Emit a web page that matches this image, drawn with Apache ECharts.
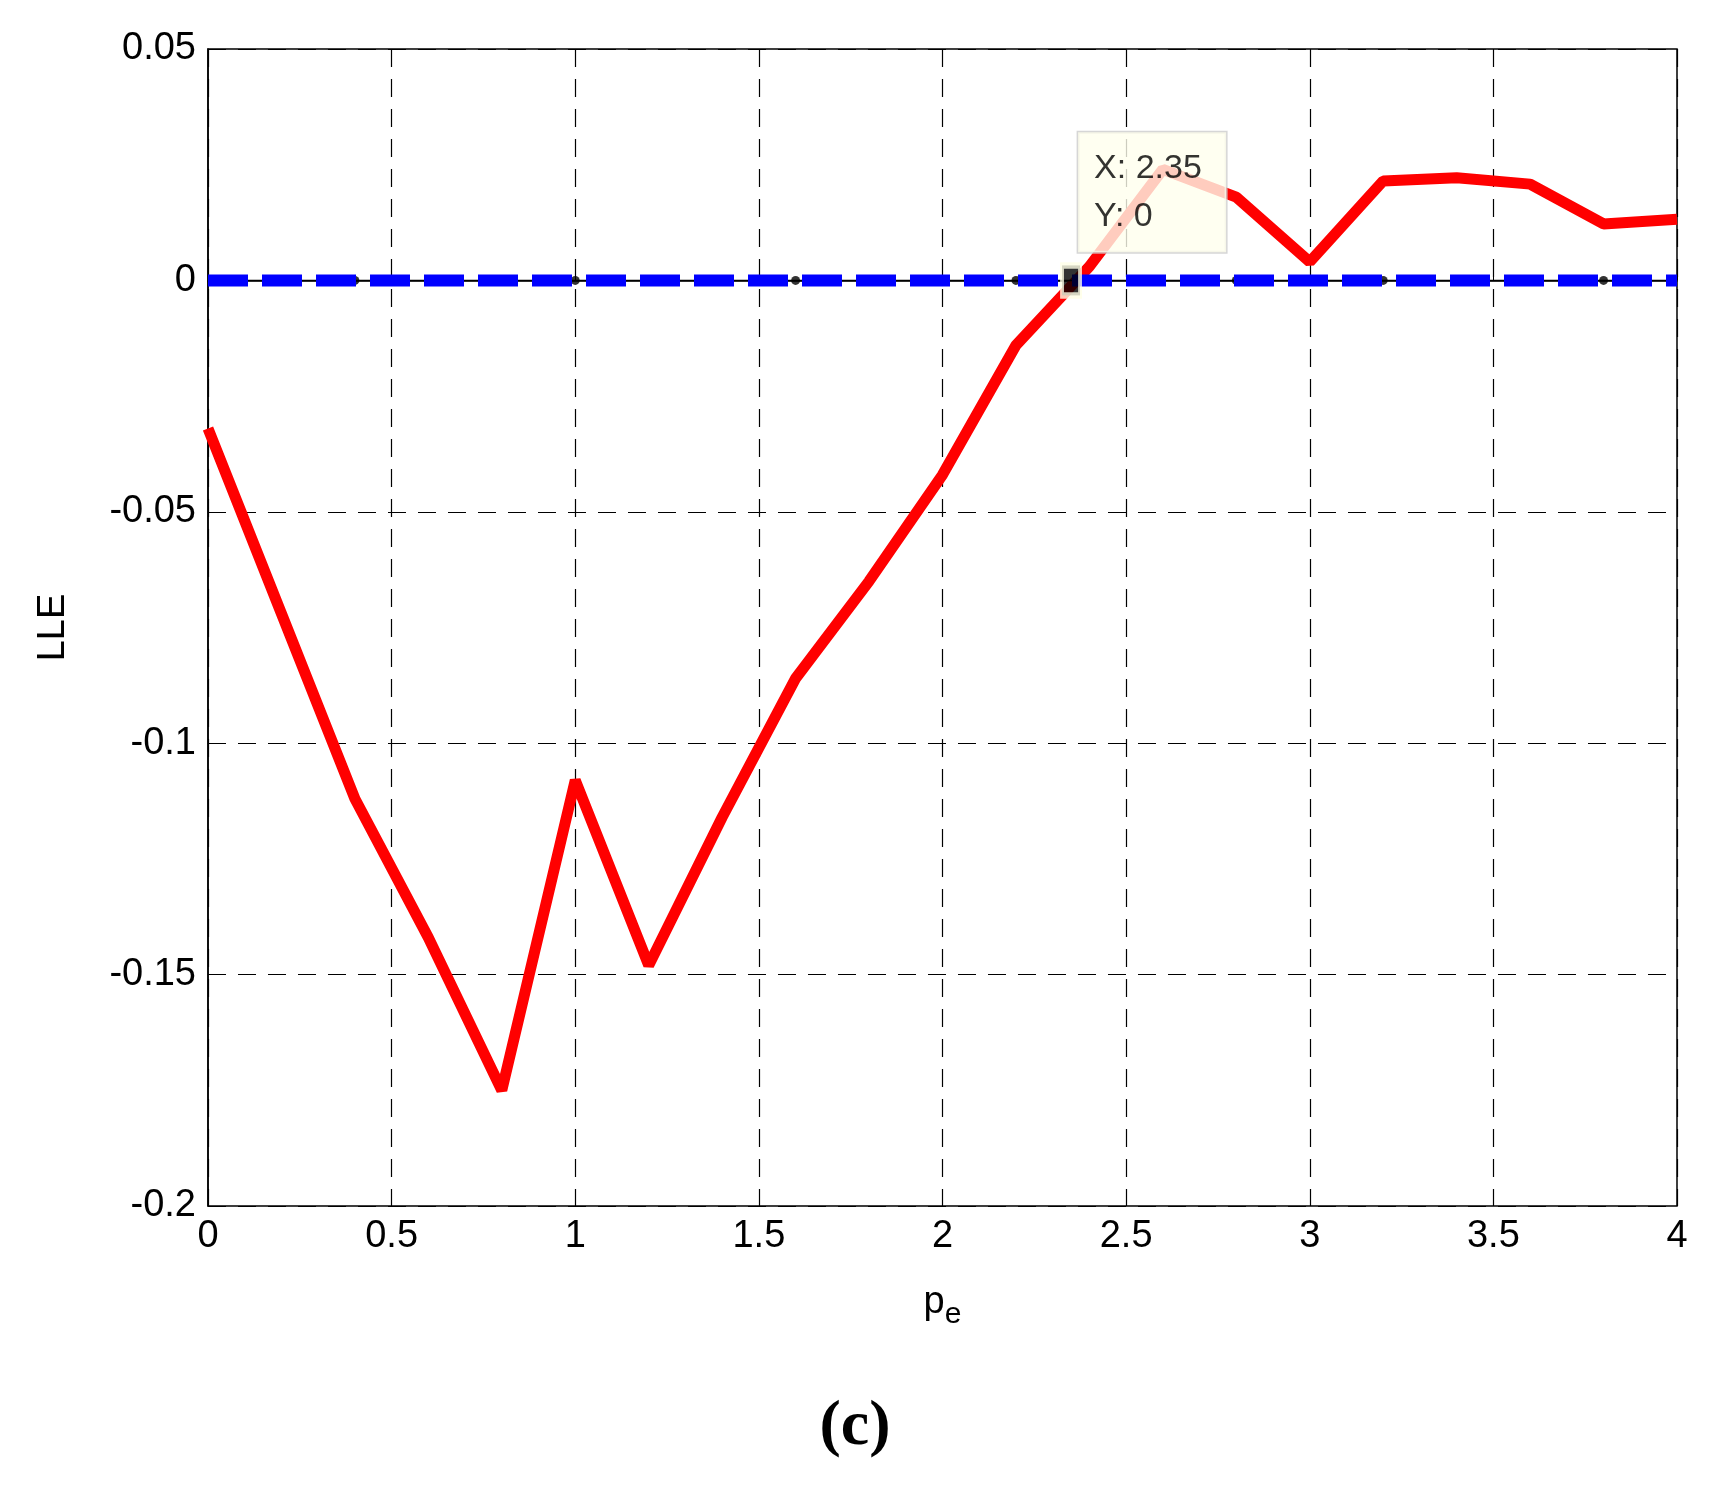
<!DOCTYPE html><html><head><meta charset="utf-8"><script src="https://cdn.jsdelivr.net/npm/echarts@6/dist/echarts.min.js"></script></head><body style="margin:0;background:#fff"><div id="c" style="width:1710px;height:1491px"></div><script>
const xs=[0,0.2,0.4,0.6,0.8,1.0,1.2,1.4,1.6,1.8,2.0,2.2,2.4,2.6,2.8,3.0,3.2,3.4,3.6,3.8,4.0];
const lle=[-0.032,-0.072,-0.112,-0.142,-0.175,-0.108,-0.148,-0.116,-0.086,-0.065,-0.042,-0.014,0.003,0.024,0.018,0.004,0.0215,0.0222,0.0208,0.0122,0.0132];
const dotXs=[0.4,1.0,1.6,2.2,2.8,3.2,3.4,3.8];
const tip=[2.35,0];
const F='Liberation Sans';
const ch=echarts.init(document.getElementById('c'));
ch.setOption({animation:false,
grid:{left:208,right:33,top:49,bottom:285,show:true,borderColor:'#000',borderWidth:1.5},
xAxis:{type:'value',min:0,max:4,interval:0.5,name:'{a|p}{b|e}',nameLocation:'middle',nameGap:70,
 nameTextStyle:{rich:{a:{fontFamily:F,fontSize:38,color:'#000'},b:{fontFamily:F,fontSize:30,color:'#000',padding:[24,0,0,0]}}},
 axisLine:{lineStyle:{color:'#000',width:1.5}},axisTick:{inside:true,length:10,lineStyle:{color:'#000'}},
 axisLabel:{fontFamily:F,fontSize:38,color:'#000',margin:12,formatter:v=>String(v)},
 splitLine:{show:true,lineStyle:{color:'#000',type:[18,12],width:1.2}}},
yAxis:{type:'value',min:-0.2,max:0.05,interval:0.05,name:'LLE',nameLocation:'middle',nameGap:135,
 nameTextStyle:{fontFamily:F,fontSize:38,color:'#000'},
 axisLine:{lineStyle:{color:'#000',width:1.5}},axisTick:{inside:true,length:10,lineStyle:{color:'#000'}},
 axisLabel:{fontFamily:F,fontSize:38,color:'#000',margin:12,formatter:v=>String(+v.toFixed(2))},
 splitLine:{show:true,lineStyle:{color:'#000',type:[18,12],width:1.2}}},
series:[
{type:'line',data:xs.map((x,i)=>[x,lle[i]]),showSymbol:false,lineStyle:{color:'#ff0000',width:11},z:2},
{type:'line',data:[[0,0],[4,0]],showSymbol:false,lineStyle:{color:'#000',width:1.5},z:3},
{type:'scatter',data:dotXs.map(x=>[x,0]),symbolSize:9,itemStyle:{color:'#000'},z:3},
{type:'line',data:[[0,0],[4,0]],showSymbol:false,lineStyle:{color:'#0000ff',width:12,type:[40,14]},z:4},
{type:'scatter',zlevel:1,data:[tip],symbol:'rect',symbolSize:[18,30],itemStyle:{color:'#000',borderColor:'#ffffe6',borderWidth:5},z:6,
 label:{show:true,position:[18,-130],formatter:'X: 2.35\nY: 0',fontFamily:F,fontSize:34,color:'#000',lineHeight:48,
 backgroundColor:'#ffffee',borderColor:'#ccc',borderWidth:1.5,padding:[12,14,12,16],width:118,align:'left'}}
],
graphic:[{type:'text',left:'center',top:1395,style:{text:'(c)',font:'bold 64px "Liberation Serif"',fill:'#000'}}]
});
</script></body></html>
